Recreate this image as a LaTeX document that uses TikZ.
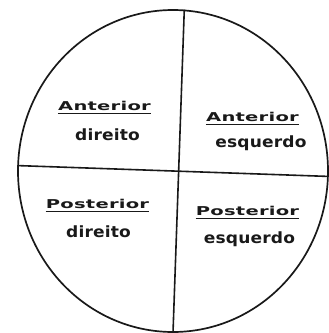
\documentclass[tikz,border=0pt]{standalone}
\usepackage{fontspec}
\usepackage{tikz}
\usetikzlibrary{shapes.geometric, positioning}
\newfontfamily\sidefont[FakeStretch=1.6, LetterSpace=2]{DejaVu Sans}
\newfontfamily\partfont[FakeStretch=1.1, LetterSpace=1]{DejaVu Sans}

\begin{document}
\begin{tikzpicture}[
  x=1pt, y=-1pt,
  disc/.style     = {ellipse, draw=black!90, line width=1.7pt,
                     minimum width=310pt, minimum height=322pt, inner sep=0pt},
  divider/.style  = {draw=black!90, line width=1.6pt},
  sideword/.style = {font=\sidefont\bfseries\fontsize{12.2}{14}\selectfont,
                     anchor=base, inner xsep=0pt, inner ysep=3pt, text=black!90},
  partword/.style = {font=\partfont\bfseries\fontsize{15.5}{18}\selectfont,
                     anchor=base, inner sep=1pt, text=black!90},
  uline/.style    = {line width=1.7pt, draw=black!90},
]
\useasboundingbox (0,0) rectangle (329,333);

%% Circle and its two dividers
\node[disc] (round) at (173,171) {};
\draw[divider] (round.86) -- (round.south);
\draw[divider] (round.178) -- (round.358);

%% Quadrant labels
\node[sideword] (antdir) at (104.5,110) {Anterior};
\node[partword] (dir1)   at (107.5,140) {direito};

\node[sideword] (antesq) at (252.5,121) {Anterior};
\node[partword] (esq1)   at (261,147)   {esquerdo};

\node[sideword] (posdir) at (97.5,208)  {Posterior};
\node[partword] (dir2)   at (98.5,237)  {direito};

\node[sideword] (posesq) at (247.5,215) {Posterior};
\node[partword] (esq2)   at (249.5,243) {esquerdo};

%% Underlines
\foreach \w in {antdir, antesq, posdir, posesq}
  \draw[uline] (\w.south west) -- (\w.south east);

\end{tikzpicture}
\end{document}
